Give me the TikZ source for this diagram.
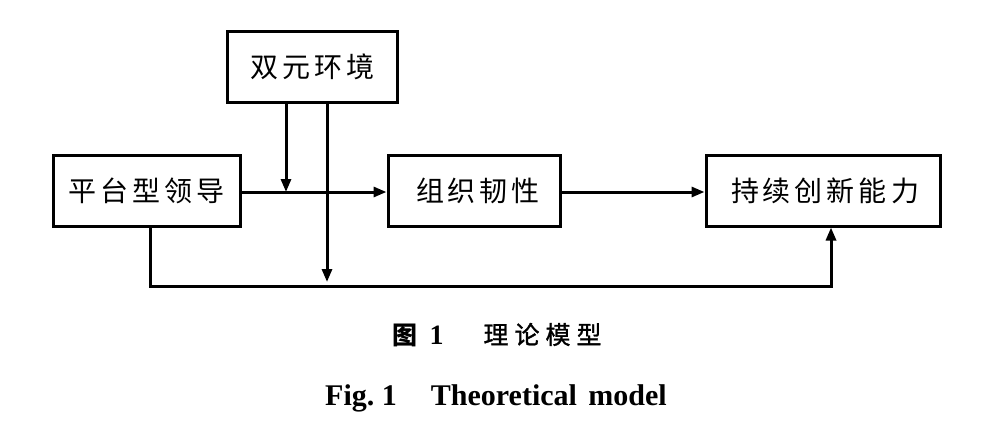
\documentclass[tikz,border=0pt]{standalone}
\usepackage{fontspec}
\setmainfont{Liberation Serif}
\newfontfamily\cjk{Noto Sans CJK SC}
\usetikzlibrary{arrows.meta}
\newcommand{\gp}{\hspace{4pt}}
\newcommand{\cgp}{\hspace{6pt}}
\begin{document}
\begin{tikzpicture}[x=1pt,y=-1pt,
  box/.style={draw,line width=3pt,inner sep=0pt,font=\cjk\fontsize{28}{30}\selectfont},
  conn/.style={line width=3pt},
  arr/.style={conn,-{Triangle[length=13pt,width=10pt]}}]
\useasboundingbox (0,0) rectangle (996,436);
\node[box,minimum width=170,minimum height=71] (env) at (312.5,67) {双\gp 元\gp 环\gp 境};
\node[box,minimum width=187,minimum height=71] (lead) at (146.5,190.5) {平\gp 台\gp 型\gp 领\gp 导};
\node[box,minimum width=172,minimum height=71] (res) at (474,190.5) {\hspace{8pt}组\gp 织\gp 韧\gp 性};
\node[box,minimum width=234,minimum height=71] (inn) at (823,190.5) {\hspace{4pt}持\gp 续\gp 创\gp 新\gp 能\gp 力};
\coordinate (j1) at (286,192);
\coordinate (j2) at (327,282);
\coordinate (b1) at (150,286);
\coordinate (b2) at (831,286);
\draw[arr] (lead.east |- j1) -- (res.west |- j1);
\draw[arr] (res.east |- j1) -- (inn.west |- j1);
\draw[arr] (env.south -| j1) -- (j1);
\draw[arr] (env.south -| j2) -- (j2);
\draw[arr] (lead.south -| b1) -- (b1) -- (b2) -- (inn.south -| b2);
\node[inner sep=0pt,anchor=base] (cap1) at (497,344) {{\cjk\bfseries\fontsize{25}{27}\selectfont 图}\hspace{12pt}{\bfseries\fontsize{28}{30}\selectfont 1}\hspace{40pt}{\cjk\addfontfeature{FakeBold=1.2}\fontsize{25}{27}\selectfont 理\cgp 论\cgp 模\cgp 型}};
\node[inner sep=0pt,anchor=base] (cap2) at (496,405) {\bfseries\fontsize{30}{32}\selectfont Fig.\ 1\hspace{34pt}Theoretical\hspace{4pt} model};
\end{tikzpicture}
\end{document}
